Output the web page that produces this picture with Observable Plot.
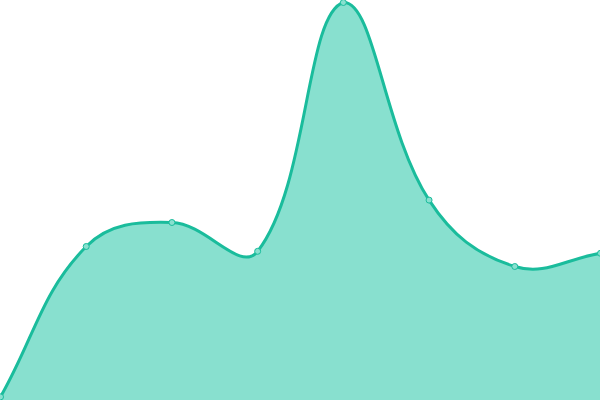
<!DOCTYPE html>
<html>
<head>
<meta charset="utf-8">
<script src="https://cdn.jsdelivr.net/npm/d3@7"></script>
<script src="https://cdn.jsdelivr.net/npm/@observablehq/plot@0.6"></script>
<style>
  html, body { margin: 0; padding: 0; background: #fff; }
  #chart svg { display: block; }
</style>
</head>
<body>
<div id="chart"></div>
<script>
const categories = [0, 1, 2, 3, 4, 5, 6, 7];
const values = [0.9, 38.5, 44.5, 37.3, 99.5, 50.1, 33.5, 36.8];

const data = categories.map((c, i) => ({x: c, y: values[i]}));

// Spline curve (tension 0.4, distance-weighted, control points capped to the plot area)
const W = 600, H = 400, TENSION = 0.4;
class SplineCurve {
  constructor(context) { this._context = context; }
  areaStart() { this._line = 0; }
  areaEnd() { this._line = NaN; }
  lineStart() { this._pts = []; }
  point(x, y) { this._pts.push([+x, +y]); }
  lineEnd() {
    const p = this._pts, n = p.length, ctx = this._context;
    if (n) {
      if (this._line) ctx.lineTo(p[0][0], p[0][1]); else ctx.moveTo(p[0][0], p[0][1]);
      if (n === 2) ctx.lineTo(p[1][0], p[1][1]);
      else if (n > 2) {
        const cps = p.map((pt, i) => {
          const a = p[Math.max(i - 1, 0)], b = pt, c = p[Math.min(i + 1, n - 1)];
          const d01 = Math.hypot(b[0] - a[0], b[1] - a[1]);
          const d12 = Math.hypot(c[0] - b[0], c[1] - b[1]);
          let s01 = d01 / (d01 + d12), s12 = d12 / (d01 + d12);
          if (!isFinite(s01)) s01 = 0;
          if (!isFinite(s12)) s12 = 0;
          const fa = TENSION * s01, fb = TENSION * s12;
          const clampX = v => Math.max(0, Math.min(W, v));
          const clampY = v => Math.max(0, Math.min(H, v));
          return {
            px: clampX(b[0] - fa * (c[0] - a[0])), py: clampY(b[1] - fa * (c[1] - a[1])),
            nx: clampX(b[0] + fb * (c[0] - a[0])), ny: clampY(b[1] + fb * (c[1] - a[1]))
          };
        });
        for (let i = 0; i < n - 1; i++) {
          ctx.bezierCurveTo(cps[i].nx, cps[i].ny, cps[i + 1].px, cps[i + 1].py, p[i + 1][0], p[i + 1][1]);
        }
      }
    }
    if (this._line || (this._line !== 0 && n === 1)) ctx.closePath();
    this._line = 1 - this._line;
  }
}
const spline = context => new SplineCurve(context);

const chart = Plot.plot({
  width: W,
  height: H,
  margin: 0,
  style: {background: "#fff", overflow: "hidden"},
  x: {domain: [0, 7], range: [0, W], axis: null},
  y: {domain: [0, 100], range: [H, 0], axis: null},
  marks: [
    Plot.areaY(data, {x: "x", y: "y", curve: spline, fill: "#88e0cf"}),
    Plot.lineY(data, {x: "x", y: "y", curve: spline, stroke: "#1abc9c", strokeWidth: 3}),
    Plot.dot(data, {x: "x", y: "y", r: 3, fill: "#88e0cf", stroke: "#1abc9c", strokeWidth: 1})
  ]
});
document.getElementById("chart").appendChild(chart);
</script>
</body>
</html>
